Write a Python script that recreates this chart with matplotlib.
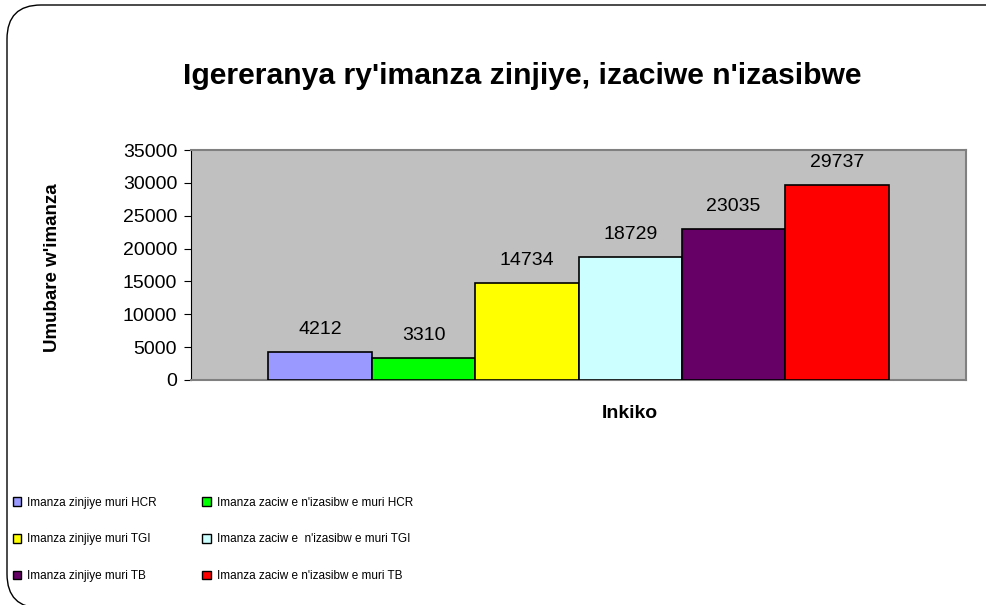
import matplotlib.pyplot as pp
import numpy as np
from matplotlib.patches import FancyBboxPatch, Patch

pp.rcParams['font.family'] = ['Liberation Sans', 'DejaVu Sans']

# Data
series_names = [
    'Imanza zinjiye muri HCR',
    "Imanza zaciw e n'izasibw e muri HCR",
    'Imanza zinjiye muri TGI',
    "Imanza zaciw e  n'izasibw e muri TGI",
    'Imanza zinjiye muri TB',
    "Imanza zaciw e n'izasibw e muri TB",
]
series_values = [4212, 3310, 14734, 18729, 23035, 29737]
series_colors = ['#9999FF', '#00FF00', '#FFFF00', '#CCFFFF', '#660066', '#FF0000']
y_ticks = [0, 5000, 10000, 15000, 20000, 25000, 30000, 35000]

title = "Igereranya ry'imanza zinjiye, izaciwe n'izasibwe"
y_label = "Umubare w'imanza"
x_label = 'Inkiko'

W, H = 986, 605
fig = pp.figure(figsize=(W / 100, H / 100), dpi=100)

# Rounded outer frame (runs off the right and bottom edges), behind everything
frame = FancyBboxPatch(
    (7 / W, 1 - 608 / H), 1.05, 603 / H,
    boxstyle='round,pad=0,rounding_size=%f' % (34 / W),
    transform=fig.transFigure, facecolor='white', edgecolor='black',
    linewidth=1.0, zorder=-5, mutation_aspect=W / H,
)
fig.patches.append(frame)

ax = fig.add_axes([191 / W, 1 - 380 / H, (966 - 191) / W, (380 - 150) / H])
ax.set_zorder(2)
ax.set_facecolor('#C0C0C0')

x = np.arange(len(series_values))
ax.bar(x, series_values, width=1.0, color=series_colors,
       edgecolor='black', linewidth=1.2, zorder=3)

for xi, v in zip(x, series_values):
    ax.annotate(str(v), xy=(xi, v), xytext=(0, 10), textcoords='offset points',
                ha='center', va='bottom', fontsize=14)

ax.set_xlim(-1.25, 6.25)
ax.set_ylim(0, 35000)
ax.set_yticks(y_ticks)
ax.tick_params(axis='y', labelsize=14, length=5, direction='out', pad=5)
ax.set_xticks([])

for side in ['top', 'right', 'bottom']:
    ax.spines[side].set_color('#808080')
    ax.spines[side].set_linewidth(1.5)
ax.spines['left'].set_color('black')

fig.text(53 / W, 1 - 268 / H, y_label, ha='center', va='center', rotation=90,
         fontsize=13.5, fontweight='bold')
fig.text(630 / W, 1 - 413 / H, x_label, ha='center', va='center',
         fontsize=14, fontweight='bold')

fig.text(522 / W, 1 - 76 / H, title, ha='center', va='center',
         fontsize=21.7, fontweight='bold')

# Legend: two columns, filled row by row
handles = [Patch(facecolor=c, edgecolor='black', linewidth=1.0) for c in series_colors]
order = [0, 2, 4, 1, 3, 5]
fig.legend([handles[i] for i in order], [series_names[i] for i in order],
           ncol=2, loc='upper left', bbox_to_anchor=(2 / W, 1 - 486 / H),
           frameon=False, fontsize=8.5,
           handlelength=0.75, handleheight=0.75,
           handletextpad=0.45, labelspacing=2.1, columnspacing=3.9)

pp.savefig('out.png', dpi=100)
